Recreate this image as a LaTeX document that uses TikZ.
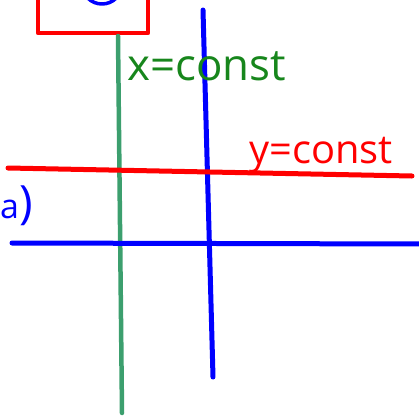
\documentclass[tikz,border=0pt]{standalone}
\usepackage{fontspec}
\setmainfont{Open Sans}
\definecolor{Red}{HTML}{FF0000}
\definecolor{Blue}{HTML}{0000FF}
\definecolor{Ink}{HTML}{17861C}
\definecolor{Sea}{HTML}{3C9F6E}

\begin{document}
\begin{tikzpicture}[x=1bp,y=-1bp,line cap=round,line join=round,
  every node/.style={inner sep=0pt,anchor=base west}]
  \useasboundingbox (0,0) rectangle (419,419);
  \clip (0,0) rectangle (419,419);
  \draw[Red,line width=4.5bp] (38,-10) rectangle (148,33);
  \draw[Blue,line width=3.5bp] (82,-16) arc[start angle=180,end angle=0,radius=20];
  \draw[Sea,line width=4.5bp] (118,36) -- (122,413);
  \draw[Blue,line width=5bp] (203,10) -- (213,377);
  \draw[Red,line width=5bp] (8,168) -- (412,176);
  \draw[Blue,line width=5bp] (12,243) -- (425,244);
  \node[Ink,font=\fontsize{44}{44}\selectfont] (xlabel) at (127,80) {x=const};
  \node[Red,font=\fontsize{40}{40}\selectfont] (ylabel) at (249,163) {y=const};
  \node[Blue,font=\fontsize{34}{34}\selectfont] (tag) at (0,218) {a\fontsize{46}{46}\selectfont)};
\end{tikzpicture}
\end{document}
